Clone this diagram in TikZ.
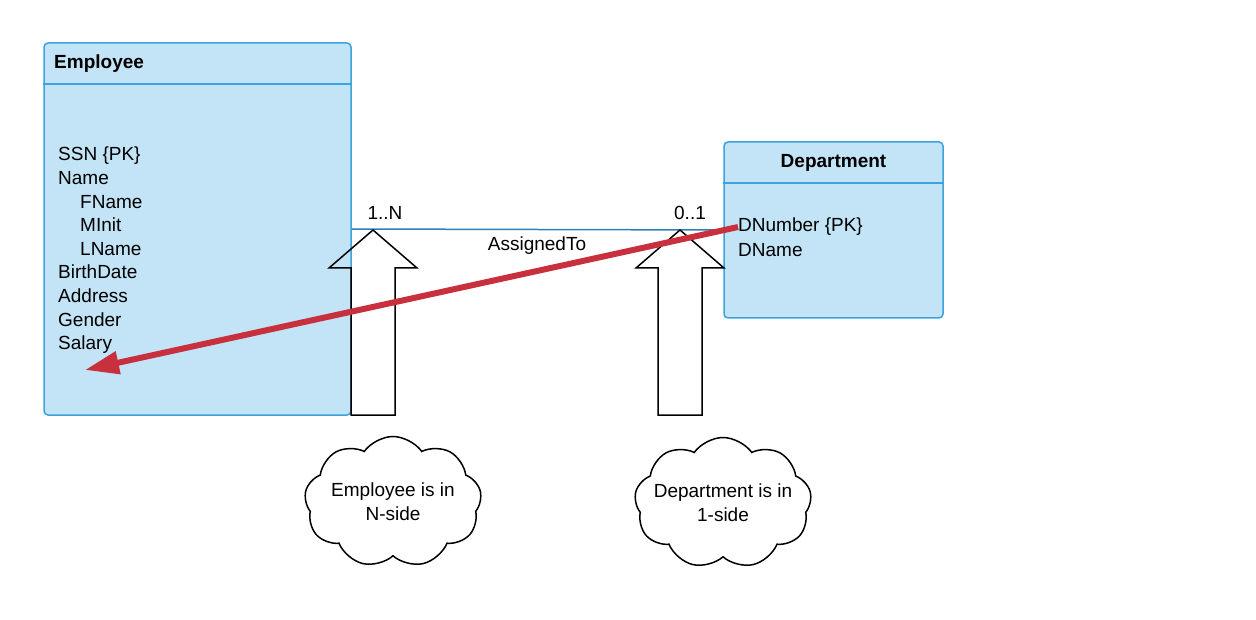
\documentclass[tikz,border=0pt]{standalone}
\usepackage{fontspec}
\setmainfont{Liberation Sans}
\usetikzlibrary{positioning,shapes.symbols,arrows.meta}

\definecolor{boxfill}{HTML}{C3E4F6}
\definecolor{boxline}{HTML}{3BA3DD}
\definecolor{relline}{HTML}{2F7FB8}
\definecolor{hintred}{HTML}{C8303D}

\tikzstyle{entity} = [rectangle, rounded corners=4pt, draw=boxline, line width=1.5pt, fill=boxfill]
\tikzstyle{title} = [font=\fontsize{19}{23}\selectfont\bfseries, inner sep=0pt]
\tikzstyle{attr} = [font=\fontsize{19}{23.6}\selectfont, align=left, inner sep=0pt, anchor=north west]
\tikzstyle{label} = [font=\fontsize{19}{23}\selectfont, inner sep=0pt]
\tikzstyle{note} = [cloud, cloud puffs=9, cloud puff arc=110, aspect=1.35, draw=black, line width=1.5pt, minimum width=177pt, minimum height=131pt, inner sep=0pt]
\tikzstyle{notetext} = [font=\fontsize{19}{23.6}\selectfont, align=center, inner sep=0pt]
\tikzstyle{bigarrow} = [draw=black, line width=1.5pt, line join=miter]
\tikzstyle{hint} = [draw=hintred, line width=6pt, -{Triangle[length=34pt,width=22pt]}]

\begin{document}
\begin{tikzpicture}[x=1pt,y=-1pt]
      \useasboundingbox (0,0) rectangle (1256,620);

      \node (emp) [entity, minimum width=307pt, minimum height=372pt] at (197.5,229) {};
      \draw [draw=boxline, line width=1.5pt] ([yshift=-42pt]emp.north west) -- ([yshift=-42pt]emp.north east);
      \node (emptitle) [title, anchor=west] at (54,64) {Employee};
      \node (empattr) [attr] at (58,147) {SSN \{PK\}\\Name\\\hspace{22pt}FName\\\hspace{22pt}MInit\\\hspace{22pt}LName\\BirthDate\\Address\\Gender\\Salary};

      \node (dept) [entity, minimum width=219pt, minimum height=176pt] at (833.5,230) {};
      \draw [draw=boxline, line width=1.5pt] ([yshift=-42pt]dept.north west) -- ([yshift=-42pt]dept.north east);
      \node (depttitle) [title] at (833.5,163) {Department};
      \node (dnum) [label, anchor=west] at (738,227) {DNumber \{PK\}};
      \node (dname) [label, anchor=west] at (738,250) {DName};

      \draw [draw=relline, line width=1.5pt] (emp.east) -- (dept.west);
      \node (card1) [label] at (385,213) {1..N};
      \node (card2) [label] at (690,213) {0..1};
      \node (rel) [label] at (537,246) {AssignedTo};

      % block arrows over the boxes, no fill
      \draw [bigarrow] (373,230) -- (417,268) -- (395,268) -- (395,415) -- (351,415) -- (351,268) -- (329,268) -- cycle;
      \draw [bigarrow] (680,230) -- (724,268) -- (702,268) -- (702,415) -- (658,415) -- (658,268) -- (636,268) -- cycle;

      \node (nside) [note] at (393,502) {};
      \node (nsidetext) [notetext] at (nside.center) {Employee is in\\N-side};
      \node (oneside) [note] at (723,503) {};
      \node (onesidetext) [notetext] at (oneside.center) {Department is in\\1-side};

      \coordinate (salarypt) at (85,370);
      \draw [hint] (dnum.west) -- (salarypt);
    \end{tikzpicture}
\end{document}
